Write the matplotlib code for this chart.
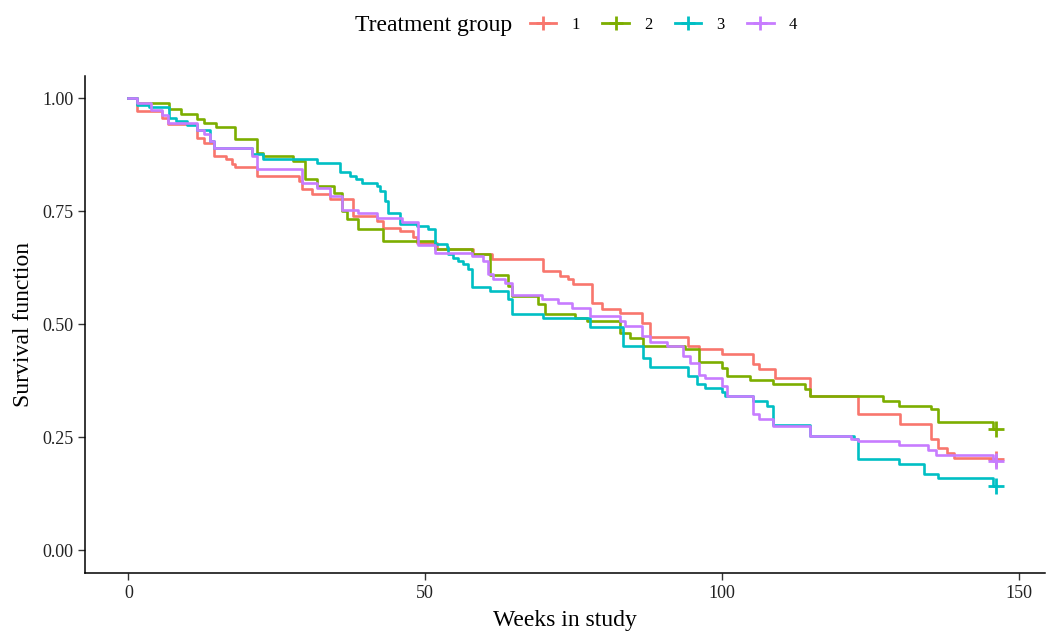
import matplotlib.pyplot as plt
from matplotlib.lines import Line2D

plt.rcParams['font.family'] = ['Liberation Serif', 'DejaVu Serif']

# Kaplan-Meier step curves (week, survival)
t1 = [0, 1.5, 5.7, 6.6, 11.6, 12.8, 14.5, 16.5, 17.4, 17.9, 21.6, 28.8, 29.3, 31.0,
      33.9, 37.8, 41.8, 42.8, 45.7, 47.9, 48.6, 51.9, 58.0, 61.2, 69.8, 72.7, 74.0,
      74.9, 78.1, 79.8, 82.8, 86.5, 87.9, 94.3, 96.0, 100.0, 105.1, 106.1, 108.9,
      114.8, 122.8, 130.0, 135.1, 136.3, 137.9, 139.0, 145.5]
s1 = [1.00, 0.972, 0.957, 0.943, 0.913, 0.902, 0.872, 0.865, 0.854, 0.847, 0.828, 0.817,
      0.799, 0.788, 0.777, 0.739, 0.729, 0.714, 0.706, 0.693, 0.680, 0.666, 0.655, 0.644,
      0.618, 0.607, 0.600, 0.589, 0.548, 0.533, 0.526, 0.504, 0.473, 0.452, 0.445, 0.434,
      0.412, 0.402, 0.382, 0.341, 0.301, 0.279, 0.247, 0.227, 0.216, 0.205, 0.201]

t2 = [0, 1.5, 6.9, 8.9, 11.6, 12.8, 14.8, 17.9, 21.6, 22.6, 27.7, 29.7, 31.7, 34.7,
      35.9, 36.8, 38.6, 42.8, 51.6, 57.8, 60.9, 63.9, 64.6, 69.0, 70.2, 75.2, 77.2,
      82.8, 84.5, 86.7, 93.8, 96.0, 100.0, 100.8, 104.7, 108.6, 114.0, 114.8, 127.0,
      129.7, 135.1, 136.3, 145.5]
s2 = [1.00, 0.990, 0.976, 0.965, 0.955, 0.946, 0.937, 0.909, 0.880, 0.872, 0.861, 0.821,
      0.806, 0.791, 0.751, 0.732, 0.711, 0.684, 0.666, 0.655, 0.610, 0.584, 0.563, 0.544,
      0.522, 0.515, 0.507, 0.481, 0.470, 0.452, 0.445, 0.417, 0.404, 0.386, 0.377, 0.367,
      0.356, 0.341, 0.330, 0.319, 0.312, 0.283, 0.268]

t3 = [0, 1.5, 3.5, 6.9, 8.1, 9.8, 11.6, 13.7, 14.5, 20.9, 22.6, 31.7, 35.6, 37.3, 38.4,
      39.3, 41.8, 42.3, 43.2, 43.7, 45.7, 48.6, 50.4, 51.6, 53.6, 53.8, 54.6, 55.5, 56.3,
      57.2, 57.8, 60.9, 63.9, 64.6, 69.8, 77.7, 83.3, 86.7, 87.9, 94.3, 95.8, 97.1, 100.0,
      100.5, 105.2, 107.6, 108.6, 114.8, 122.1, 122.8, 129.7, 133.9, 136.3, 145.5]
s3 = [1.00, 0.985, 0.980, 0.957, 0.950, 0.940, 0.930, 0.906, 0.889, 0.876, 0.865, 0.858,
      0.836, 0.828, 0.821, 0.813, 0.806, 0.795, 0.773, 0.747, 0.721, 0.717, 0.710, 0.677,
      0.670, 0.655, 0.647, 0.640, 0.633, 0.622, 0.583, 0.574, 0.555, 0.522, 0.513, 0.495,
      0.452, 0.426, 0.406, 0.386, 0.367, 0.360, 0.350, 0.341, 0.330, 0.319, 0.277, 0.252,
      0.246, 0.201, 0.190, 0.168, 0.159, 0.142]

t4 = [0, 1.5, 3.9, 5.7, 6.6, 11.6, 12.8, 13.7, 14.5, 20.9, 21.6, 29.3, 31.7, 33.9, 35.9,
      38.6, 41.8, 46.0, 48.7, 51.6, 57.8, 59.7, 60.5, 61.4, 63.4, 64.6, 69.6, 72.3, 74.7,
      77.7, 82.8, 83.6, 86.5, 87.9, 90.7, 93.4, 94.6, 96.0, 97.1, 100.0, 100.8, 105.1,
      106.1, 108.6, 114.8, 121.6, 122.8, 129.7, 134.7, 135.9, 145.5]
s4 = [1.00, 0.990, 0.975, 0.963, 0.946, 0.931, 0.920, 0.906, 0.891, 0.872, 0.843, 0.813,
      0.802, 0.784, 0.754, 0.747, 0.736, 0.726, 0.675, 0.658, 0.651, 0.640, 0.611, 0.600,
      0.592, 0.564, 0.557, 0.548, 0.537, 0.518, 0.507, 0.496, 0.474, 0.461, 0.452, 0.430,
      0.415, 0.389, 0.382, 0.364, 0.341, 0.301, 0.290, 0.274, 0.252, 0.246, 0.242, 0.232,
      0.223, 0.210, 0.198]

end_week = 146
groups = ['1', '2', '3', '4']
colors = ['#F8766D', '#7CAE00', '#00BFC4', '#C77CFF']
curves = [(t1, s1), (t2, s2), (t3, s3), (t4, s4)]

fig = plt.figure(figsize=(10.49, 6.31), dpi=100)
ax = fig.add_axes([0.081, 0.092, 0.915, 0.788])

for (t, s), c in zip(curves, colors):
    ax.plot(t + [end_week], s + [s[-1]], drawstyle='steps-post', color=c, lw=1.9)
    ax.plot([end_week], [s[-1]], marker='+', color=c, ms=11, mew=2, ls='none')

ax.set_xlim(-7.3, 154.3)
ax.set_ylim(-0.05, 1.05)
ax.set_xticks([0, 50, 100, 150])
ax.set_yticks([0, 0.25, 0.5, 0.75, 1.0])
ax.set_yticklabels(['0.00', '0.25', '0.50', '0.75', '1.00'])
ax.tick_params(labelsize=13, length=5, width=1, color='#333333', labelcolor='#222222')
for side in ['top', 'right']:
    ax.spines[side].set_visible(False)
for side in ['left', 'bottom']:
    ax.spines[side].set_linewidth(1.1)
ax.set_xlabel('Weeks in study', fontsize=17, labelpad=6)
ax.set_ylabel('Survival function', fontsize=17, labelpad=6)

# legend on top, title to the left of the keys
fig.text(0.338, 0.960, 'Treatment group', fontsize=17, va='center', ha='left')
handles = [Line2D([], [], color=c, lw=2, marker='+', ms=10, mew=2) for c in colors]
fig.legend(handles, groups, loc='center left', bbox_to_anchor=(0.505, 0.960), ncol=4,
           frameon=False, fontsize=12, handlelength=1.6, handletextpad=0.9,
           columnspacing=1.35, borderaxespad=0, borderpad=0)

fig.savefig('out.png', dpi=100)
